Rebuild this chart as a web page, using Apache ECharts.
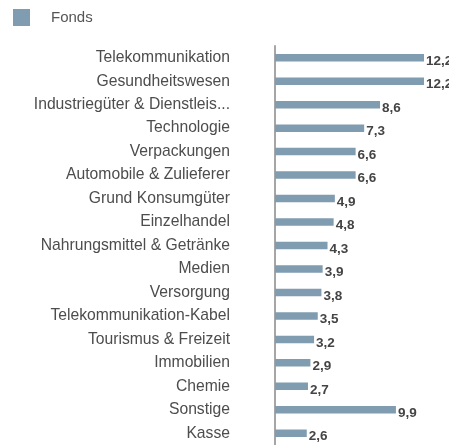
<!DOCTYPE html>
<html>
<head>
<meta charset="utf-8">
<script src="https://cdn.jsdelivr.net/npm/echarts@6/dist/echarts.min.js"></script>
<style>html,body{margin:0;padding:0;background:#fff}#c{width:449px;height:445px}</style>
</head>
<body>
<div id="c"></div>
<script>
const categories = ["Telekommunikation","Gesundheitswesen","Industriegüter & Dienstleis...","Technologie","Verpackungen","Automobile & Zulieferer","Grund Konsumgüter","Einzelhandel","Nahrungsmittel & Getränke","Medien","Versorgung","Telekommunikation-Kabel","Tourismus & Freizeit","Immobilien","Chemie","Sonstige","Kasse"];
const fonds = [12.2,12.2,8.6,7.3,6.6,6.6,4.9,4.8,4.3,3.9,3.8,3.5,3.2,2.9,2.7,9.9,2.6];
const seriesName = "Fonds";
const barColor = "#809cb0";

const chart = echarts.init(document.getElementById('c'), null, {renderer: 'canvas'});
chart.setOption({
  animation: false,
  legend: {
    left: 8, top: 4,
    itemWidth: 17, itemHeight: 17,
    icon: 'rect',
    textStyle: {fontFamily: 'Liberation Sans, Arial, sans-serif', fontSize: 15, color: '#555', padding: [0,0,0,16]},
    data: [seriesName]
  },
  grid: {left: 275, right: 3, top: 46, bottom: -4.4, containLabel: false},
  xAxis: {
    type: 'value', min: 0, max: 14,
    show: false
  },
  yAxis: {
    type: 'category', inverse: true, data: categories,
    axisLine: {show: true, lineStyle: {color: '#a6a6a6', width: 2}},
    axisTick: {show: false},
    splitLine: {show: false},
    axisLabel: {margin: 45, fontFamily: 'Liberation Sans, Arial, sans-serif', fontSize: 15.7, color: '#4d4d4d'}
  },
  series: [{
    name: seriesName, type: 'bar', data: fonds, barWidth: 7.5,
    itemStyle: {color: barColor},
    label: {
      show: true, position: 'right', distance: 2, offset: [0, 3.5],
      fontFamily: 'Liberation Sans, Arial, sans-serif', fontSize: 13.5, fontWeight: 'bold', color: '#444',
      formatter: p => String(p.value).replace('.', ',')
    }
  }]
});
</script>
</body>
</html>
